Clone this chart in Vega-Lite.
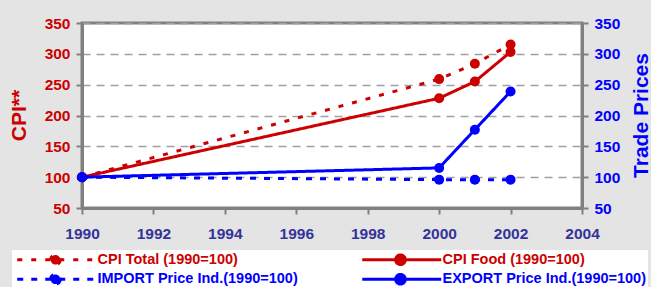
{
  "$schema": "https://vega.github.io/schema/vega-lite/v6.json",
  "width": 500,
  "height": 185,
  "autosize": {"type": "none"},
  "padding": {"left": 82, "top": 23, "right": 69, "bottom": 79},
  "background": "#e4e4e4",
  "config": {
    "font": "Liberation Sans",
    "view": {"fill": "white", "stroke": "#808080", "strokeWidth": 3},
    "axis": {
      "labelFontWeight": "bold",
      "labelFontSize": 15.5,
      "titleFontWeight": "bold",
      "titleFontSize": 21,
      "tickColor": "#808080",
      "tickWidth": 2,
      "domainColor": "#808080",
      "domainWidth": 3
    }
  },
  "data": {
    "values": [
      {"year": 1990, "series": "CPI Total (1990=100)", "value": 100},
      {"year": 2000, "series": "CPI Total (1990=100)", "value": 259},
      {"year": 2001, "series": "CPI Total (1990=100)", "value": 284},
      {"year": 2002, "series": "CPI Total (1990=100)", "value": 315},
      {"year": 1990, "series": "CPI Food (1990=100)", "value": 100},
      {"year": 2000, "series": "CPI Food (1990=100)", "value": 228},
      {"year": 2001, "series": "CPI Food (1990=100)", "value": 255},
      {"year": 2002, "series": "CPI Food (1990=100)", "value": 303},
      {"year": 1990, "series": "IMPORT Price Ind.(1990=100)", "value": 100},
      {"year": 2000, "series": "IMPORT Price Ind.(1990=100)", "value": 96},
      {"year": 2001, "series": "IMPORT Price Ind.(1990=100)", "value": 96},
      {"year": 2002, "series": "IMPORT Price Ind.(1990=100)", "value": 96},
      {"year": 1990, "series": "EXPORT Price Ind.(1990=100)", "value": 100},
      {"year": 2000, "series": "EXPORT Price Ind.(1990=100)", "value": 115},
      {"year": 2001, "series": "EXPORT Price Ind.(1990=100)", "value": 177},
      {"year": 2002, "series": "EXPORT Price Ind.(1990=100)", "value": 239}
    ]
  },
  "encoding": {
    "x": {
      "field": "year",
      "type": "quantitative",
      "scale": {"domain": [1990, 2004], "nice": false, "zero": false},
      "axis": {
        "values": [1990, 1992, 1994, 1996, 1998, 2000, 2002, 2004],
        "format": "d",
        "title": null,
        "grid": false,
        "labelColor": "#333399",
        "labelFlush": false,
        "labelOverlap": false,
        "tickSize": 6,
        "labelPadding": 12
      }
    },
    "color": {
      "field": "series",
      "type": "nominal",
      "scale": {
        "domain": ["CPI Total (1990=100)", "IMPORT Price Ind.(1990=100)", "CPI Food (1990=100)", "EXPORT Price Ind.(1990=100)"],
        "range": ["#cc0000", "#0000ff", "#cc0000", "#0000ff"]
      },
      "legend": {
        "title": null,
        "orient": "none",
        "legendX": -70,
        "legendY": 227,
        "columns": 2,
        "columnPadding": 58,
        "rowPadding": -3,
        "padding": 2,
        "fillColor": "white",
        "symbolType": "M-1,0H18.75M9.75,0A1.2,1.2 0 1,1 7.35,0A1.2,1.2 0 1,1 9.75,0",
        "symbolSize": 64,
        "symbolStrokeWidth": 3,
        "labelOffset": 69,
        "labelFontSize": 14.5,
        "labelFontWeight": "bold",
        "labelLimit": 400,
        "labelColor": {"expr": "indexof(datum.label, 'CPI') === 0 ? '#cc0000' : '#0000ff'"}
      }
    },
    "strokeDash": {
      "field": "series",
      "type": "nominal",
      "scale": {
        "domain": ["CPI Total (1990=100)", "IMPORT Price Ind.(1990=100)", "CPI Food (1990=100)", "EXPORT Price Ind.(1990=100)"],
        "range": [[5, 9], [6, 8], [1, 0], [1, 0]]
      },
      "legend": null
    }
  },
  "layer": [
    {
      "transform": [{"filter": "indexof(datum.series, 'CPI') === 0"}],
      "mark": {"type": "line", "strokeWidth": 3, "point": {"filled": true, "size": 100}},
      "encoding": {
        "y": {
          "field": "value",
          "type": "quantitative",
          "scale": {"domain": [50, 350], "nice": false, "zero": false},
          "axis": {
            "orient": "left",
            "values": [50, 100, 150, 200, 250, 300, 350],
            "labelColor": "#cc0000",
            "title": "CPI**",
            "titleColor": "#cc0000",
            "titleX": -63,
            "titleY": 92,
            "titleAlign": "center",
            "titleBaseline": "middle",
            "grid": true,
            "gridDash": [8, 6],
            "gridColor": "#a0a0a0",
            "gridWidth": 1.5,
            "tickSize": 6,
            "labelPadding": 6
          }
        }
      }
    },
    {
      "transform": [{"filter": "indexof(datum.series, 'CPI') !== 0"}],
      "mark": {"type": "line", "strokeWidth": 3, "point": {"filled": true, "size": 100}},
      "encoding": {
        "y": {
          "field": "value",
          "type": "quantitative",
          "scale": {"domain": [50, 350], "nice": false, "zero": false},
          "axis": {
            "orient": "right",
            "values": [50, 100, 150, 200, 250, 300, 350],
            "labelColor": "#0000ff",
            "title": "Trade Prices",
            "titleColor": "#0000ff",
            "titleAngle": 270,
            "titleX": 59,
            "titleY": 92,
            "titleAlign": "center",
            "titleBaseline": "middle",
            "grid": false,
            "tickSize": 6,
            "labelPadding": 6
          }
        }
      }
    }
  ],
  "resolve": {"scale": {"y": "independent"}}
}
